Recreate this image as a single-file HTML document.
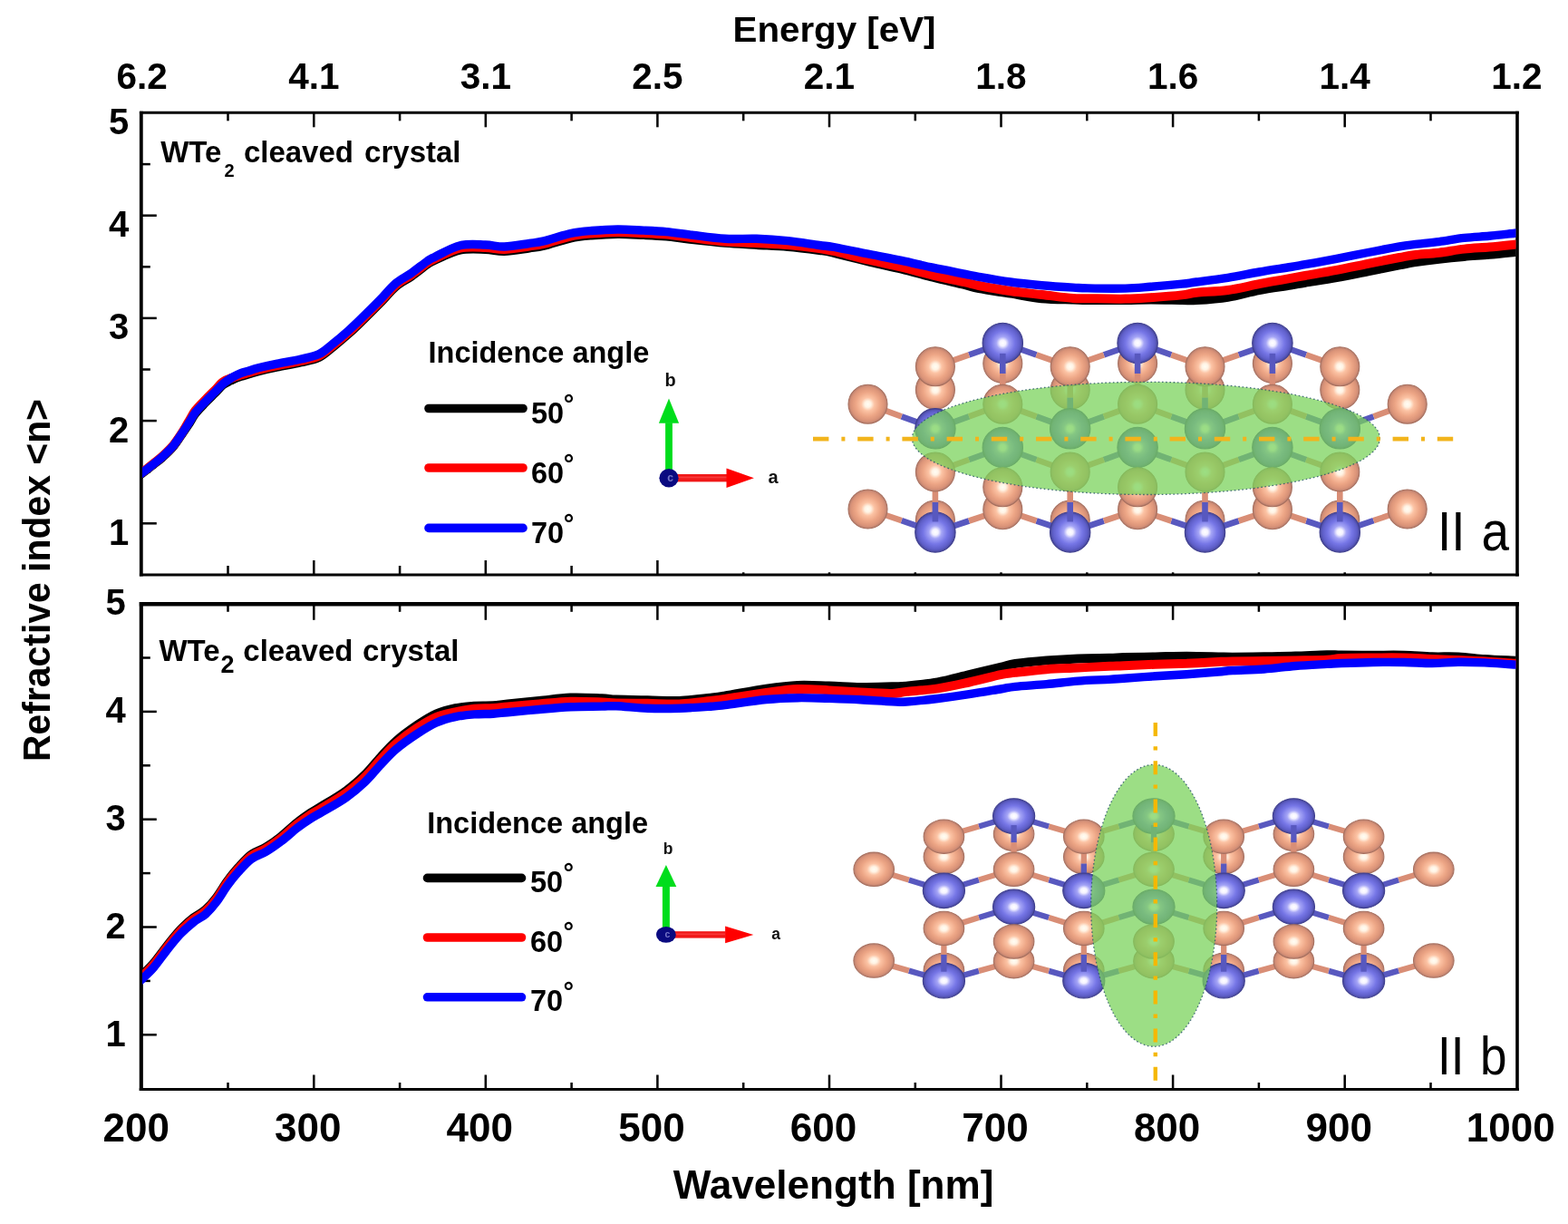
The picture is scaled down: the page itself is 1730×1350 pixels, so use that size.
<!DOCTYPE html><html><head><meta charset="utf-8"><style>html,body{margin:0;padding:0;background:#fff;}svg{display:block;}</style></head><body>
<svg width="1730" height="1350" viewBox="0 0 1730 1350">
<defs>
<radialGradient id="gO" cx="0.5" cy="0.5" r="0.5">
<stop offset="0" stop-color="#fffdf4"/><stop offset="0.16" stop-color="#fff3e4"/><stop offset="0.34" stop-color="#fcc3a4"/>
<stop offset="0.62" stop-color="#eda686"/><stop offset="0.86" stop-color="#da9378"/><stop offset="1" stop-color="#b98070"/></radialGradient>
<radialGradient id="gB" cx="0.5" cy="0.5" r="0.5">
<stop offset="0" stop-color="#ffffff"/><stop offset="0.15" stop-color="#f4f2ff"/><stop offset="0.32" stop-color="#a4a4f6"/>
<stop offset="0.6" stop-color="#7676e6"/><stop offset="0.86" stop-color="#5e5ec8"/><stop offset="1" stop-color="#48489a"/></radialGradient>
<clipPath id="cTop"><rect x="157" y="125.5" width="1515.5" height="507"/></clipPath>
<clipPath id="cBot"><rect x="157" y="668" width="1515.5" height="532"/></clipPath>
</defs>
<rect x="0" y="0" width="1730" height="1350" fill="#fff"/>
<g stroke="#000" fill="none">
<path d="M153.9,124.3 H1675.8" stroke-width="3.1"/>
<path d="M153.9,634.0 H1675.8" stroke-width="3.0"/>
<path d="M155.8,122.8 V635.5" stroke-width="3.8"/>
<path d="M1674.0,122.8 V635.5" stroke-width="3.6"/>
<line x1="251.5" y1="124.3" x2="251.5" y2="133.3" stroke-width="2.5"/>
<line x1="251.5" y1="634.0" x2="251.5" y2="624.0" stroke-width="2.5"/>
<line x1="346.3" y1="124.3" x2="346.3" y2="140.3" stroke-width="2.5"/>
<line x1="346.3" y1="634.0" x2="346.3" y2="618.0" stroke-width="2.5"/>
<line x1="441.1" y1="124.3" x2="441.1" y2="133.3" stroke-width="2.5"/>
<line x1="441.1" y1="634.0" x2="441.1" y2="624.0" stroke-width="2.5"/>
<line x1="535.8" y1="124.3" x2="535.8" y2="140.3" stroke-width="2.5"/>
<line x1="535.8" y1="634.0" x2="535.8" y2="618.0" stroke-width="2.5"/>
<line x1="630.6" y1="124.3" x2="630.6" y2="133.3" stroke-width="2.5"/>
<line x1="630.6" y1="634.0" x2="630.6" y2="624.0" stroke-width="2.5"/>
<line x1="725.4" y1="124.3" x2="725.4" y2="140.3" stroke-width="2.5"/>
<line x1="725.4" y1="634.0" x2="725.4" y2="618.0" stroke-width="2.5"/>
<line x1="820.2" y1="124.3" x2="820.2" y2="133.3" stroke-width="2.5"/>
<line x1="820.2" y1="634.0" x2="820.2" y2="624.0" stroke-width="2.5"/>
<line x1="915.0" y1="124.3" x2="915.0" y2="140.3" stroke-width="2.5"/>
<line x1="915.0" y1="634.0" x2="915.0" y2="618.0" stroke-width="2.5"/>
<line x1="1009.8" y1="124.3" x2="1009.8" y2="133.3" stroke-width="2.5"/>
<line x1="1009.8" y1="634.0" x2="1009.8" y2="624.0" stroke-width="2.5"/>
<line x1="1104.5" y1="124.3" x2="1104.5" y2="140.3" stroke-width="2.5"/>
<line x1="1104.5" y1="634.0" x2="1104.5" y2="618.0" stroke-width="2.5"/>
<line x1="1199.3" y1="124.3" x2="1199.3" y2="133.3" stroke-width="2.5"/>
<line x1="1199.3" y1="634.0" x2="1199.3" y2="624.0" stroke-width="2.5"/>
<line x1="1294.1" y1="124.3" x2="1294.1" y2="140.3" stroke-width="2.5"/>
<line x1="1294.1" y1="634.0" x2="1294.1" y2="618.0" stroke-width="2.5"/>
<line x1="1388.9" y1="124.3" x2="1388.9" y2="133.3" stroke-width="2.5"/>
<line x1="1388.9" y1="634.0" x2="1388.9" y2="624.0" stroke-width="2.5"/>
<line x1="1483.7" y1="124.3" x2="1483.7" y2="140.3" stroke-width="2.5"/>
<line x1="1483.7" y1="634.0" x2="1483.7" y2="618.0" stroke-width="2.5"/>
<line x1="1578.5" y1="124.3" x2="1578.5" y2="133.3" stroke-width="2.5"/>
<line x1="1578.5" y1="634.0" x2="1578.5" y2="624.0" stroke-width="2.5"/>
</g>
<g stroke="#000" fill="none">
<path d="M153.8,666.3 H1675.8" stroke-width="4.6"/>
<path d="M153.8,1201.5 H1675.8" stroke-width="3.2"/>
<path d="M155.8,664.0 V1203.1" stroke-width="4.1"/>
<path d="M1674.0,664.0 V1203.1" stroke-width="3.6"/>
<line x1="251.5" y1="666.3" x2="251.5" y2="674.8" stroke-width="2.5"/>
<line x1="251.5" y1="1201.5" x2="251.5" y2="1194.0" stroke-width="2.5"/>
<line x1="346.3" y1="666.3" x2="346.3" y2="683.8" stroke-width="2.5"/>
<line x1="346.3" y1="1201.5" x2="346.3" y2="1185.5" stroke-width="2.5"/>
<line x1="441.1" y1="666.3" x2="441.1" y2="674.8" stroke-width="2.5"/>
<line x1="441.1" y1="1201.5" x2="441.1" y2="1194.0" stroke-width="2.5"/>
<line x1="535.8" y1="666.3" x2="535.8" y2="683.8" stroke-width="2.5"/>
<line x1="535.8" y1="1201.5" x2="535.8" y2="1185.5" stroke-width="2.5"/>
<line x1="630.6" y1="666.3" x2="630.6" y2="674.8" stroke-width="2.5"/>
<line x1="630.6" y1="1201.5" x2="630.6" y2="1194.0" stroke-width="2.5"/>
<line x1="725.4" y1="666.3" x2="725.4" y2="683.8" stroke-width="2.5"/>
<line x1="725.4" y1="1201.5" x2="725.4" y2="1185.5" stroke-width="2.5"/>
<line x1="820.2" y1="666.3" x2="820.2" y2="674.8" stroke-width="2.5"/>
<line x1="820.2" y1="1201.5" x2="820.2" y2="1194.0" stroke-width="2.5"/>
<line x1="915.0" y1="666.3" x2="915.0" y2="683.8" stroke-width="2.5"/>
<line x1="915.0" y1="1201.5" x2="915.0" y2="1185.5" stroke-width="2.5"/>
<line x1="1009.8" y1="666.3" x2="1009.8" y2="674.8" stroke-width="2.5"/>
<line x1="1009.8" y1="1201.5" x2="1009.8" y2="1194.0" stroke-width="2.5"/>
<line x1="1104.5" y1="666.3" x2="1104.5" y2="683.8" stroke-width="2.5"/>
<line x1="1104.5" y1="1201.5" x2="1104.5" y2="1185.5" stroke-width="2.5"/>
<line x1="1199.3" y1="666.3" x2="1199.3" y2="674.8" stroke-width="2.5"/>
<line x1="1199.3" y1="1201.5" x2="1199.3" y2="1194.0" stroke-width="2.5"/>
<line x1="1294.1" y1="666.3" x2="1294.1" y2="683.8" stroke-width="2.5"/>
<line x1="1294.1" y1="1201.5" x2="1294.1" y2="1185.5" stroke-width="2.5"/>
<line x1="1388.9" y1="666.3" x2="1388.9" y2="674.8" stroke-width="2.5"/>
<line x1="1388.9" y1="1201.5" x2="1388.9" y2="1194.0" stroke-width="2.5"/>
<line x1="1483.7" y1="666.3" x2="1483.7" y2="683.8" stroke-width="2.5"/>
<line x1="1483.7" y1="1201.5" x2="1483.7" y2="1185.5" stroke-width="2.5"/>
<line x1="1578.5" y1="666.3" x2="1578.5" y2="674.8" stroke-width="2.5"/>
<line x1="1578.5" y1="1201.5" x2="1578.5" y2="1194.0" stroke-width="2.5"/>
</g>
<g stroke="#000" stroke-width="2.5">
<line x1="155.8" y1="577.3" x2="172.8" y2="577.3"/>
<line x1="155.8" y1="1141.3" x2="172.8" y2="1141.3"/>
<line x1="155.8" y1="520.7" x2="165.8" y2="520.7"/>
<line x1="155.8" y1="1081.9" x2="165.8" y2="1081.9"/>
<line x1="155.8" y1="464.1" x2="172.8" y2="464.1"/>
<line x1="155.8" y1="1022.5" x2="172.8" y2="1022.5"/>
<line x1="155.8" y1="407.5" x2="165.8" y2="407.5"/>
<line x1="155.8" y1="963.1" x2="165.8" y2="963.1"/>
<line x1="155.8" y1="350.9" x2="172.8" y2="350.9"/>
<line x1="155.8" y1="903.7" x2="172.8" y2="903.7"/>
<line x1="155.8" y1="294.3" x2="165.8" y2="294.3"/>
<line x1="155.8" y1="844.3" x2="165.8" y2="844.3"/>
<line x1="155.8" y1="237.7" x2="172.8" y2="237.7"/>
<line x1="155.8" y1="784.9" x2="172.8" y2="784.9"/>
<line x1="155.8" y1="181.1" x2="165.8" y2="181.1"/>
<line x1="155.8" y1="725.5" x2="165.8" y2="725.5"/>
</g>
<g clip-path="url(#cTop)" fill="none" stroke-width="10" stroke-linejoin="round" stroke-linecap="round">
<path d="M152.0,525.0 C152.6,524.6 152.9,524.9 155.8,522.8 C158.7,520.7 165.5,515.3 169.3,512.3 C173.2,509.2 175.4,507.7 178.9,504.5 C182.4,501.3 187.0,497.2 190.5,493.0 C194.0,488.8 197.2,483.6 200.1,479.5 C203.0,475.4 205.2,472.2 207.8,468.3 C210.4,464.4 212.3,460.0 215.5,455.9 C218.7,451.8 223.6,447.1 227.1,443.4 C230.6,439.7 233.5,437.0 236.7,433.8 C239.9,430.6 243.1,426.6 246.3,424.1 C249.5,421.6 252.8,420.4 256.0,418.9 C259.2,417.4 262.4,416.2 265.6,415.1 C268.8,414.0 272.0,413.2 275.2,412.2 C278.4,411.2 279.8,410.6 284.9,409.3 C290.0,408.1 298.1,406.3 306.0,404.7 C313.9,403.1 324.4,401.3 332.1,399.5 C339.8,397.7 346.1,396.8 352.0,394.0 C357.9,391.2 361.9,387.0 367.3,382.6 C372.8,378.2 378.9,373.1 384.7,367.9 C390.5,362.7 396.2,357.0 402.0,351.4 C407.8,345.8 413.6,340.0 419.4,334.1 C425.2,328.2 430.9,320.8 436.7,315.9 C442.5,311.0 448.2,308.7 454.0,304.6 C459.8,300.5 467.1,294.5 471.4,291.5 C475.7,288.5 473.9,289.3 480.0,286.7 C486.1,284.1 498.4,277.6 507.7,275.7 C517.0,273.8 527.4,274.8 535.5,275.0 C543.6,275.2 548.2,277.2 556.3,277.0 C564.4,276.8 576.7,274.5 584.0,273.5 C591.3,272.5 592.4,272.7 600.0,270.9 C607.6,269.1 620.6,264.4 629.4,262.5 C638.1,260.6 643.8,260.2 652.5,259.5 C661.2,258.8 671.8,258.1 681.4,258.0 C691.0,257.9 701.3,258.7 710.3,259.1 C719.3,259.5 726.9,259.8 735.4,260.6 C743.9,261.4 750.2,262.6 761.0,263.8 C771.8,265.0 787.7,266.8 800.0,267.8 C812.3,268.8 823.2,269.2 834.7,269.9 C846.2,270.6 857.8,271.0 869.3,272.0 C880.8,273.0 895.5,274.9 904.0,276.0 C912.5,277.1 910.7,276.7 920.0,278.9 C929.3,281.1 947.5,286.0 960.0,289.0 C972.5,292.0 983.2,293.9 994.7,296.7 C1006.2,299.5 1017.8,302.8 1029.3,305.7 C1040.8,308.6 1055.5,311.9 1064.0,314.0 C1072.5,316.1 1071.5,316.6 1080.0,318.2 C1088.5,319.8 1103.2,321.8 1114.7,323.6 C1126.2,325.4 1137.8,328.1 1149.3,329.2 C1160.8,330.3 1175.5,330.2 1184.0,330.5 C1192.5,330.8 1190.4,330.9 1200.0,331.0 C1209.6,331.1 1230.0,331.1 1241.6,331.0 C1253.1,330.9 1258.9,330.5 1269.3,330.5 C1279.7,330.5 1295.5,330.9 1304.0,331.0 C1312.5,331.1 1311.5,331.6 1320.0,331.1 C1328.5,330.6 1343.2,329.7 1354.7,327.8 C1366.2,325.9 1377.8,322.2 1389.3,320.0 C1400.8,317.8 1415.5,316.0 1424.0,314.6 C1432.5,313.2 1431.5,313.2 1440.0,311.8 C1448.5,310.4 1463.2,308.3 1474.7,306.2 C1486.2,304.1 1497.8,301.6 1509.3,299.3 C1520.8,297.0 1535.5,294.0 1544.0,292.4 C1552.5,290.8 1552.7,290.5 1560.0,289.4 C1567.3,288.3 1578.5,286.8 1587.7,285.7 C1597.0,284.6 1606.2,283.7 1615.5,282.9 C1624.8,282.1 1634.0,281.6 1643.2,280.8 C1652.5,280.0 1665.2,278.6 1671.0,278.0 C1676.8,277.4 1676.8,277.4 1678.0,277.3" stroke="#000"/>
<path d="M152.0,524.0 C152.6,523.6 152.9,523.9 155.8,521.8 C158.7,519.7 165.5,514.4 169.3,511.3 C173.2,508.2 175.4,506.7 178.9,503.5 C182.4,500.3 187.0,496.2 190.5,492.0 C194.0,487.8 197.2,482.9 200.1,478.5 C203.0,474.1 205.2,470.0 207.8,465.7 C210.4,461.5 212.3,457.1 215.5,452.9 C218.7,448.7 223.6,444.1 227.1,440.4 C230.6,436.7 233.5,434.0 236.7,430.8 C239.9,427.6 243.1,423.4 246.3,421.1 C249.5,418.8 252.8,418.0 256.0,416.8 C259.2,415.5 262.4,414.6 265.6,413.6 C268.8,412.6 272.0,411.7 275.2,410.7 C278.4,409.7 279.8,409.1 284.9,407.8 C290.0,406.6 298.1,404.8 306.0,403.2 C313.9,401.6 324.4,399.8 332.1,398.0 C339.8,396.2 346.1,395.3 352.0,392.5 C357.9,389.7 361.9,385.5 367.3,381.1 C372.8,376.8 378.9,371.6 384.7,366.4 C390.5,361.2 396.2,355.5 402.0,349.9 C407.8,344.3 413.6,338.5 419.4,332.6 C425.2,326.7 430.9,319.3 436.7,314.4 C442.5,309.5 448.2,307.2 454.0,303.1 C459.8,299.0 467.1,293.0 471.4,290.0 C475.7,287.0 473.9,287.9 480.0,285.2 C486.1,282.5 498.4,275.7 507.7,273.7 C517.0,271.7 527.4,272.8 535.5,273.0 C543.6,273.2 548.2,275.2 556.3,275.0 C564.4,274.8 576.7,272.5 584.0,271.5 C591.3,270.5 592.4,270.7 600.0,268.9 C607.6,267.1 620.6,262.4 629.4,260.5 C638.1,258.6 643.8,258.2 652.5,257.5 C661.2,256.8 671.8,256.1 681.4,256.0 C691.0,255.9 701.3,256.7 710.3,257.1 C719.3,257.5 726.9,257.8 735.4,258.6 C743.9,259.4 750.2,260.5 761.0,261.8 C771.8,263.1 787.7,265.5 800.0,266.5 C812.3,267.5 823.2,267.4 834.7,268.0 C846.2,268.6 857.8,269.0 869.3,270.0 C880.8,271.0 895.5,272.8 904.0,274.0 C912.5,275.2 910.7,274.8 920.0,277.0 C929.3,279.2 947.5,284.1 960.0,287.0 C972.5,289.9 983.2,291.8 994.7,294.6 C1006.2,297.4 1017.8,300.8 1029.3,303.6 C1040.8,306.4 1055.5,309.3 1064.0,311.2 C1072.5,313.1 1071.5,313.4 1080.0,315.0 C1088.5,316.6 1103.2,319.3 1114.7,321.0 C1126.2,322.7 1137.8,323.7 1149.3,325.0 C1160.8,326.3 1175.5,328.3 1184.0,329.0 C1192.5,329.7 1190.4,329.1 1200.0,329.2 C1209.6,329.3 1230.0,329.8 1241.6,329.6 C1253.1,329.4 1258.9,328.9 1269.3,328.2 C1279.7,327.5 1295.5,326.3 1304.0,325.4 C1312.5,324.5 1311.5,323.6 1320.0,322.7 C1328.5,321.8 1343.2,321.6 1354.7,320.0 C1366.2,318.4 1377.8,315.4 1389.3,313.2 C1400.8,311.0 1415.5,308.4 1424.0,306.9 C1432.5,305.4 1431.5,305.5 1440.0,304.0 C1448.5,302.5 1463.2,300.1 1474.7,297.9 C1486.2,295.7 1497.8,293.2 1509.3,290.9 C1520.8,288.6 1535.5,285.6 1544.0,284.0 C1552.5,282.4 1552.7,282.1 1560.0,281.2 C1567.3,280.3 1578.5,279.8 1587.7,278.7 C1597.0,277.6 1606.2,275.6 1615.5,274.6 C1624.8,273.6 1634.0,273.3 1643.2,272.5 C1652.5,271.7 1665.2,270.3 1671.0,269.7 C1676.8,269.1 1676.8,269.1 1678.0,269.0" stroke="#ff0000"/>
<path d="M152.0,524.5 C152.6,524.1 152.9,524.4 155.8,522.3 C158.7,520.2 165.5,514.9 169.3,511.8 C173.2,508.8 175.4,507.2 178.9,504.0 C182.4,500.8 187.0,496.7 190.5,492.5 C194.0,488.3 197.2,483.2 200.1,479.0 C203.0,474.8 205.2,471.4 207.8,467.4 C210.4,463.4 212.3,459.1 215.5,454.9 C218.7,450.7 223.6,446.1 227.1,442.4 C230.6,438.7 233.5,436.0 236.7,432.8 C239.9,429.6 243.1,425.8 246.3,423.1 C249.5,420.4 252.8,418.3 256.0,416.4 C259.2,414.5 262.4,412.9 265.6,411.6 C268.8,410.3 272.0,409.7 275.2,408.7 C278.4,407.7 279.8,407.1 284.9,405.8 C290.0,404.6 298.1,402.8 306.0,401.2 C313.9,399.6 324.4,397.8 332.1,396.0 C339.8,394.2 346.1,393.3 352.0,390.5 C357.9,387.7 361.9,383.5 367.3,379.1 C372.8,374.8 378.9,369.6 384.7,364.4 C390.5,359.2 396.2,353.5 402.0,347.9 C407.8,342.3 413.6,336.5 419.4,330.6 C425.2,324.7 430.9,317.3 436.7,312.4 C442.5,307.5 448.2,305.2 454.0,301.1 C459.8,297.0 467.1,291.0 471.4,288.0 C475.7,285.0 473.9,286.1 480.0,283.2 C486.1,280.3 498.4,272.9 507.7,270.7 C517.0,268.5 527.4,269.8 535.5,270.0 C543.6,270.2 548.2,272.2 556.3,272.0 C564.4,271.8 576.7,269.5 584.0,268.5 C591.3,267.5 592.4,267.7 600.0,265.9 C607.6,264.1 620.6,259.4 629.4,257.5 C638.1,255.6 643.8,255.2 652.5,254.5 C661.2,253.8 671.8,253.1 681.4,253.0 C691.0,252.9 701.3,253.7 710.3,254.1 C719.3,254.5 726.9,254.8 735.4,255.6 C743.9,256.4 750.2,257.5 761.0,258.8 C771.8,260.1 787.7,262.6 800.0,263.3 C812.3,264.1 823.2,262.9 834.7,263.3 C846.2,263.7 857.8,264.5 869.3,265.7 C880.8,266.9 895.5,269.4 904.0,270.5 C912.5,271.6 910.7,270.8 920.0,272.5 C929.3,274.2 947.5,278.0 960.0,280.5 C972.5,283.0 983.2,284.9 994.7,287.4 C1006.2,289.8 1017.8,292.8 1029.3,295.2 C1040.8,297.6 1055.5,300.4 1064.0,302.1 C1072.5,303.8 1071.5,303.8 1080.0,305.3 C1088.5,306.8 1103.2,309.4 1114.7,311.0 C1126.2,312.6 1137.8,313.7 1149.3,314.7 C1160.8,315.7 1175.5,316.6 1184.0,317.1 C1192.5,317.6 1190.4,317.7 1200.0,317.9 C1209.6,318.1 1230.0,318.4 1241.6,318.1 C1253.1,317.8 1258.9,317.1 1269.3,316.3 C1279.7,315.5 1295.5,314.1 1304.0,313.2 C1312.5,312.3 1311.5,312.1 1320.0,311.0 C1328.5,309.9 1343.2,308.1 1354.7,306.3 C1366.2,304.5 1377.8,302.0 1389.3,300.0 C1400.8,298.0 1415.5,295.9 1424.0,294.5 C1432.5,293.1 1431.5,293.2 1440.0,291.7 C1448.5,290.2 1463.2,287.6 1474.7,285.4 C1486.2,283.2 1497.8,280.8 1509.3,278.5 C1520.8,276.2 1535.5,273.4 1544.0,271.9 C1552.5,270.4 1552.7,270.5 1560.0,269.6 C1567.3,268.7 1578.5,267.8 1587.7,266.6 C1597.0,265.4 1606.2,263.4 1615.5,262.4 C1624.8,261.3 1634.0,261.1 1643.2,260.3 C1652.5,259.5 1665.2,257.9 1671.0,257.3 C1676.8,256.7 1676.8,256.7 1678.0,256.6" stroke="#0000ff" stroke-width="9.4"/>
</g>
<g clip-path="url(#cBot)" fill="none" stroke-width="10" stroke-linejoin="round" stroke-linecap="round">
<path d="M152.0,1079.5 C152.7,1078.9 153.0,1079.0 155.9,1076.2 C158.8,1073.4 164.6,1068.3 169.3,1062.8 C174.0,1057.4 179.2,1049.7 184.1,1043.5 C189.0,1037.3 194.0,1030.9 198.9,1025.7 C203.8,1020.5 209.0,1016.0 213.7,1012.3 C218.4,1008.6 222.8,1007.1 227.0,1003.3 C231.2,999.6 235.0,995.2 238.9,990.0 C242.8,984.8 246.8,977.6 250.7,972.2 C254.6,966.7 258.2,962.3 262.6,957.3 C267.1,952.4 272.2,946.3 277.4,942.5 C282.6,938.6 288.3,937.6 293.7,934.3 C299.1,931.0 304.3,927.3 310.0,922.8 C315.7,918.3 322.4,911.8 327.8,907.5 C333.2,903.1 337.9,899.9 342.6,896.7 C347.3,893.6 349.4,892.7 356.0,888.6 C362.6,884.6 374.2,877.9 382.0,872.2 C389.8,866.5 396.4,860.6 402.8,854.4 C409.2,848.1 414.4,841.0 420.2,834.8 C426.0,828.6 430.7,822.9 437.5,817.0 C444.3,811.1 453.4,804.5 460.8,799.5 C468.2,794.5 474.7,790.4 481.6,787.3 C488.5,784.2 495.5,782.5 502.4,781.1 C509.3,779.7 516.3,779.2 523.2,778.7 C530.1,778.2 537.9,778.7 544.0,778.3 C550.1,777.9 551.5,777.4 560.0,776.5 C568.5,775.6 583.2,774.1 594.7,773.0 C606.2,771.9 617.8,770.1 629.3,769.6 C640.8,769.1 655.5,770.0 664.0,770.3 C672.5,770.6 671.5,771.3 680.0,771.6 C688.5,771.9 703.2,772.1 714.7,772.3 C726.2,772.5 737.8,773.5 749.3,773.0 C760.8,772.5 775.5,770.5 784.0,769.6 C792.5,768.7 789.8,769.1 800.0,767.5 C810.2,765.9 832.1,761.6 845.4,759.7 C858.7,757.8 868.5,756.4 880.0,755.9 C891.5,755.4 903.2,756.2 914.7,756.5 C926.2,756.8 937.8,757.8 949.3,757.9 C960.8,758.0 975.5,757.4 984.0,757.2 C992.5,757.0 991.5,757.5 1000.0,756.7 C1008.5,755.9 1023.2,754.6 1034.7,752.5 C1046.2,750.4 1057.8,747.0 1069.3,744.2 C1080.8,741.4 1095.5,737.9 1104.0,735.9 C1112.5,733.9 1111.5,733.2 1120.0,732.0 C1128.5,730.8 1143.2,729.4 1154.7,728.5 C1166.2,727.6 1177.8,726.9 1189.3,726.4 C1200.8,725.9 1215.5,726.0 1224.0,725.8 C1232.5,725.6 1231.5,725.3 1240.0,725.1 C1248.5,724.9 1263.2,724.6 1274.7,724.4 C1286.2,724.2 1297.8,723.7 1309.3,723.7 C1320.8,723.7 1335.5,724.2 1344.0,724.4 C1352.5,724.6 1351.5,724.7 1360.0,724.7 C1368.5,724.7 1383.2,724.5 1394.7,724.3 C1406.2,724.1 1417.8,724.0 1429.3,723.6 C1440.8,723.2 1455.5,722.4 1464.0,722.2 C1472.5,722.0 1471.5,722.5 1480.0,722.6 C1488.5,722.7 1503.2,722.7 1514.7,722.7 C1526.2,722.7 1538.4,722.4 1549.3,722.7 C1560.2,723.0 1570.0,724.0 1580.0,724.3 C1590.0,724.6 1599.3,724.0 1609.0,724.5 C1618.7,725.0 1628.3,726.3 1638.0,727.0 C1647.7,727.7 1660.3,728.2 1667.0,728.5 C1673.7,728.8 1676.2,728.9 1678.0,729.0" stroke="#000"/>
<path d="M152.0,1081.0 C152.7,1080.4 153.0,1080.5 155.9,1077.7 C158.8,1074.9 164.6,1069.8 169.3,1064.3 C174.0,1058.9 179.2,1051.2 184.1,1045.0 C189.0,1038.8 194.0,1032.4 198.9,1027.2 C203.8,1022.0 209.0,1017.5 213.7,1013.8 C218.4,1010.1 222.8,1008.6 227.0,1004.8 C231.2,1001.1 235.0,996.7 238.9,991.5 C242.8,986.3 246.8,979.1 250.7,973.7 C254.6,968.2 258.2,963.8 262.6,958.8 C267.1,953.9 272.2,947.8 277.4,944.0 C282.6,940.1 288.3,939.1 293.7,935.8 C299.1,932.6 304.3,928.8 310.0,924.4 C315.7,920.0 322.4,913.5 327.8,909.2 C333.2,905.0 337.9,901.7 342.6,898.6 C347.3,895.6 349.4,894.7 356.0,890.7 C362.6,886.7 374.2,880.2 382.0,874.5 C389.8,868.9 396.4,863.0 402.8,856.8 C409.2,850.7 414.4,843.6 420.2,837.4 C426.0,831.3 430.7,825.6 437.5,819.8 C444.3,814.0 453.4,807.3 460.8,802.5 C468.2,797.7 474.7,793.7 481.6,790.8 C488.5,787.9 495.5,786.8 502.4,785.3 C509.3,783.8 516.3,782.5 523.2,781.8 C530.1,781.1 537.9,781.5 544.0,781.1 C550.1,780.7 551.5,780.4 560.0,779.6 C568.5,778.8 583.2,777.5 594.7,776.5 C606.2,775.5 617.8,774.1 629.3,773.7 C640.8,773.4 655.5,774.1 664.0,774.4 C672.5,774.7 671.5,775.2 680.0,775.4 C688.5,775.6 703.2,775.6 714.7,775.8 C726.2,776.0 737.8,777.0 749.3,776.5 C760.8,776.0 775.5,773.9 784.0,773.0 C792.5,772.1 789.8,772.5 800.0,771.0 C810.2,769.5 832.1,765.8 845.4,764.0 C858.7,762.2 868.5,760.4 880.0,760.0 C891.5,759.6 903.2,760.8 914.7,761.4 C926.2,762.0 937.8,762.9 949.3,763.5 C960.8,764.1 975.5,765.0 984.0,764.9 C992.5,764.8 991.5,763.8 1000.0,762.9 C1008.5,762.0 1023.2,761.1 1034.7,759.4 C1046.2,757.7 1057.8,755.0 1069.3,752.5 C1080.8,750.0 1095.5,746.0 1104.0,744.2 C1112.5,742.4 1111.5,742.9 1120.0,741.9 C1128.5,740.9 1143.2,739.1 1154.7,738.2 C1166.2,737.3 1177.8,737.1 1189.3,736.5 C1200.8,735.9 1215.5,735.2 1224.0,734.8 C1232.5,734.4 1231.5,734.6 1240.0,734.2 C1248.5,733.9 1263.2,733.1 1274.7,732.7 C1286.2,732.3 1297.8,732.2 1309.3,731.8 C1320.8,731.3 1335.5,730.4 1344.0,730.0 C1352.5,729.6 1351.5,729.6 1360.0,729.5 C1368.5,729.4 1383.2,729.3 1394.7,729.1 C1406.2,728.9 1417.8,728.6 1429.3,728.4 C1440.8,728.2 1455.5,728.1 1464.0,727.7 C1472.5,727.3 1471.5,726.4 1480.0,726.0 C1488.5,725.6 1503.2,725.6 1514.7,725.5 C1526.2,725.4 1538.4,725.2 1549.3,725.5 C1560.2,725.8 1570.0,726.6 1580.0,727.0 C1590.0,727.4 1599.3,727.6 1609.0,728.0 C1618.7,728.4 1628.3,728.9 1638.0,729.5 C1647.7,730.1 1660.3,731.1 1667.0,731.5 C1673.7,731.9 1676.2,731.9 1678.0,732.0" stroke="#ff0000"/>
<path d="M152.0,1084.0 C152.7,1083.5 153.0,1083.5 155.9,1080.7 C158.8,1077.9 164.6,1072.8 169.3,1067.4 C174.0,1062.0 179.2,1054.3 184.1,1048.1 C189.0,1041.9 194.0,1035.6 198.9,1030.4 C203.8,1025.2 209.0,1020.7 213.7,1017.0 C218.4,1013.3 222.8,1011.8 227.0,1008.1 C231.2,1004.4 235.0,1000.0 238.9,994.8 C242.8,989.6 246.8,982.4 250.7,977.0 C254.6,971.6 258.2,967.1 262.6,962.2 C267.1,957.3 272.2,951.2 277.4,947.4 C282.6,943.6 288.3,942.5 293.7,939.3 C299.1,936.1 304.3,932.4 310.0,928.1 C315.7,923.8 322.4,917.5 327.8,913.3 C333.2,909.1 337.9,906.0 342.6,903.0 C347.3,900.0 349.4,899.2 356.0,895.3 C362.6,891.4 374.2,885.1 382.0,879.6 C389.8,874.1 396.4,868.4 402.8,862.3 C409.2,856.2 414.4,849.3 420.2,843.2 C426.0,837.1 430.7,831.6 437.5,825.9 C444.3,820.2 453.4,813.8 460.8,809.0 C468.2,804.2 474.7,800.0 481.6,797.0 C488.5,794.0 495.5,792.2 502.4,790.7 C509.3,789.2 516.3,788.5 523.2,787.9 C530.1,787.3 537.9,787.6 544.0,787.2 C550.1,786.8 551.5,786.5 560.0,785.7 C568.5,784.9 583.2,783.5 594.7,782.5 C606.2,781.5 617.8,780.4 629.3,779.8 C640.8,779.2 655.5,779.3 664.0,779.1 C672.5,778.9 671.5,778.4 680.0,778.8 C688.5,779.1 703.2,780.8 714.7,781.2 C726.2,781.6 737.8,781.5 749.3,781.2 C760.8,780.9 775.5,779.8 784.0,779.2 C792.5,778.6 789.8,779.0 800.0,777.7 C810.2,776.4 832.1,772.8 845.4,771.5 C858.7,770.2 868.5,769.9 880.0,769.7 C891.5,769.5 903.2,770.0 914.7,770.4 C926.2,770.8 937.8,771.2 949.3,771.8 C960.8,772.4 975.5,773.5 984.0,773.9 C992.5,774.3 991.5,774.6 1000.0,774.0 C1008.5,773.4 1023.2,771.9 1034.7,770.5 C1046.2,769.1 1057.8,767.5 1069.3,765.7 C1080.8,764.0 1095.5,761.4 1104.0,760.0 C1112.5,758.6 1111.5,758.2 1120.0,757.3 C1128.5,756.4 1143.2,755.6 1154.7,754.6 C1166.2,753.6 1177.8,752.0 1189.3,751.1 C1200.8,750.2 1215.5,749.9 1224.0,749.4 C1232.5,748.9 1231.5,748.8 1240.0,748.2 C1248.5,747.6 1263.2,746.5 1274.7,745.8 C1286.2,745.0 1297.8,744.5 1309.3,743.7 C1320.8,742.9 1335.5,741.7 1344.0,741.0 C1352.5,740.3 1351.5,740.0 1360.0,739.5 C1368.5,739.0 1383.2,738.8 1394.7,738.0 C1406.2,737.2 1417.8,735.4 1429.3,734.5 C1440.8,733.6 1455.5,732.9 1464.0,732.4 C1472.5,731.9 1471.5,731.8 1480.0,731.5 C1488.5,731.2 1503.2,730.7 1514.7,730.5 C1526.2,730.3 1538.4,730.3 1549.3,730.5 C1560.2,730.7 1570.0,731.5 1580.0,731.5 C1590.0,731.5 1599.3,730.4 1609.0,730.3 C1618.7,730.2 1628.3,730.5 1638.0,730.9 C1647.7,731.3 1660.3,732.4 1667.0,732.8 C1673.7,733.2 1676.2,733.2 1678.0,733.3" stroke="#0000ff" stroke-width="9.4"/>
</g>
<rect x="760" y="350" width="911.5" height="281.3" fill="#fff"/>
<ellipse cx="1031.9" cy="573.5" rx="21.5" ry="21.5" fill="url(#gO)" stroke="#a7705f" stroke-width="1.1"/>
<ellipse cx="1180.7" cy="573.5" rx="21.5" ry="21.5" fill="url(#gO)" stroke="#a7705f" stroke-width="1.1"/>
<ellipse cx="1329.5" cy="573.5" rx="21.5" ry="21.5" fill="url(#gO)" stroke="#a7705f" stroke-width="1.1"/>
<ellipse cx="1478.3" cy="573.5" rx="21.5" ry="21.5" fill="url(#gO)" stroke="#a7705f" stroke-width="1.1"/>
<ellipse cx="1106.3" cy="401.0" rx="21.5" ry="21.5" fill="url(#gO)" stroke="#a7705f" stroke-width="1.1"/>
<ellipse cx="1255.1" cy="401.0" rx="21.5" ry="21.5" fill="url(#gO)" stroke="#a7705f" stroke-width="1.1"/>
<ellipse cx="1403.9" cy="401.0" rx="21.5" ry="21.5" fill="url(#gO)" stroke="#a7705f" stroke-width="1.1"/>
<line x1="1031.9" y1="404.3" x2="1031.9" y2="438.6" stroke="#d98e76" stroke-width="6.6"/>
<line x1="1031.9" y1="438.6" x2="1031.9" y2="472.8" stroke="#5858bf" stroke-width="6.6"/>
<line x1="1031.9" y1="472.8" x2="994.7" y2="459.3" stroke="#5858bf" stroke-width="6.6"/>
<line x1="994.7" y1="459.3" x2="957.5" y2="445.8" stroke="#d98e76" stroke-width="6.6"/>
<line x1="1031.9" y1="586.9" x2="994.7" y2="574.2" stroke="#5858bf" stroke-width="6.6"/>
<line x1="994.7" y1="574.2" x2="957.5" y2="561.5" stroke="#d98e76" stroke-width="6.6"/>
<line x1="1031.9" y1="472.8" x2="1069.1" y2="459.3" stroke="#5858bf" stroke-width="6.6"/>
<line x1="1069.1" y1="459.3" x2="1106.3" y2="445.8" stroke="#d98e76" stroke-width="6.6"/>
<line x1="1031.9" y1="586.9" x2="1069.1" y2="574.5" stroke="#5858bf" stroke-width="6.6"/>
<line x1="1069.1" y1="574.5" x2="1106.3" y2="562.2" stroke="#d98e76" stroke-width="6.6"/>
<line x1="1180.7" y1="404.3" x2="1180.7" y2="438.6" stroke="#d98e76" stroke-width="6.6"/>
<line x1="1180.7" y1="438.6" x2="1180.7" y2="472.8" stroke="#5858bf" stroke-width="6.6"/>
<line x1="1180.7" y1="472.8" x2="1143.5" y2="459.3" stroke="#5858bf" stroke-width="6.6"/>
<line x1="1143.5" y1="459.3" x2="1106.3" y2="445.8" stroke="#d98e76" stroke-width="6.6"/>
<line x1="1180.7" y1="586.9" x2="1143.5" y2="574.5" stroke="#5858bf" stroke-width="6.6"/>
<line x1="1143.5" y1="574.5" x2="1106.3" y2="562.2" stroke="#d98e76" stroke-width="6.6"/>
<line x1="1180.7" y1="472.8" x2="1217.9" y2="459.3" stroke="#5858bf" stroke-width="6.6"/>
<line x1="1217.9" y1="459.3" x2="1255.1" y2="445.8" stroke="#d98e76" stroke-width="6.6"/>
<line x1="1180.7" y1="586.9" x2="1217.9" y2="574.5" stroke="#5858bf" stroke-width="6.6"/>
<line x1="1217.9" y1="574.5" x2="1255.1" y2="562.2" stroke="#d98e76" stroke-width="6.6"/>
<line x1="1329.5" y1="404.3" x2="1329.5" y2="438.6" stroke="#d98e76" stroke-width="6.6"/>
<line x1="1329.5" y1="438.6" x2="1329.5" y2="472.8" stroke="#5858bf" stroke-width="6.6"/>
<line x1="1329.5" y1="472.8" x2="1292.3" y2="459.3" stroke="#5858bf" stroke-width="6.6"/>
<line x1="1292.3" y1="459.3" x2="1255.1" y2="445.8" stroke="#d98e76" stroke-width="6.6"/>
<line x1="1329.5" y1="586.9" x2="1292.3" y2="574.5" stroke="#5858bf" stroke-width="6.6"/>
<line x1="1292.3" y1="574.5" x2="1255.1" y2="562.2" stroke="#d98e76" stroke-width="6.6"/>
<line x1="1329.5" y1="472.8" x2="1366.7" y2="459.3" stroke="#5858bf" stroke-width="6.6"/>
<line x1="1366.7" y1="459.3" x2="1403.9" y2="445.8" stroke="#d98e76" stroke-width="6.6"/>
<line x1="1329.5" y1="586.9" x2="1366.7" y2="574.5" stroke="#5858bf" stroke-width="6.6"/>
<line x1="1366.7" y1="574.5" x2="1403.9" y2="562.2" stroke="#d98e76" stroke-width="6.6"/>
<line x1="1478.3" y1="404.3" x2="1478.3" y2="438.6" stroke="#d98e76" stroke-width="6.6"/>
<line x1="1478.3" y1="438.6" x2="1478.3" y2="472.8" stroke="#5858bf" stroke-width="6.6"/>
<line x1="1478.3" y1="472.8" x2="1441.1" y2="459.3" stroke="#5858bf" stroke-width="6.6"/>
<line x1="1441.1" y1="459.3" x2="1403.9" y2="445.8" stroke="#d98e76" stroke-width="6.6"/>
<line x1="1478.3" y1="586.9" x2="1441.1" y2="574.5" stroke="#5858bf" stroke-width="6.6"/>
<line x1="1441.1" y1="574.5" x2="1403.9" y2="562.2" stroke="#d98e76" stroke-width="6.6"/>
<line x1="1478.3" y1="472.8" x2="1515.5" y2="459.3" stroke="#5858bf" stroke-width="6.6"/>
<line x1="1515.5" y1="459.3" x2="1552.7" y2="445.8" stroke="#d98e76" stroke-width="6.6"/>
<line x1="1478.3" y1="586.9" x2="1515.5" y2="574.2" stroke="#5858bf" stroke-width="6.6"/>
<line x1="1515.5" y1="574.2" x2="1552.7" y2="561.5" stroke="#d98e76" stroke-width="6.6"/>
<line x1="1106.3" y1="493.5" x2="1106.3" y2="515.4" stroke="#5858bf" stroke-width="6.6"/>
<line x1="1106.3" y1="515.4" x2="1106.3" y2="537.3" stroke="#d98e76" stroke-width="6.6"/>
<line x1="1106.3" y1="378.4" x2="1069.1" y2="391.4" stroke="#5858bf" stroke-width="6.6"/>
<line x1="1069.1" y1="391.4" x2="1031.9" y2="404.3" stroke="#d98e76" stroke-width="6.6"/>
<line x1="1106.3" y1="493.5" x2="1069.1" y2="507.0" stroke="#5858bf" stroke-width="6.6"/>
<line x1="1069.1" y1="507.0" x2="1031.9" y2="520.5" stroke="#d98e76" stroke-width="6.6"/>
<line x1="1106.3" y1="378.4" x2="1143.5" y2="391.4" stroke="#5858bf" stroke-width="6.6"/>
<line x1="1143.5" y1="391.4" x2="1180.7" y2="404.3" stroke="#d98e76" stroke-width="6.6"/>
<line x1="1106.3" y1="493.5" x2="1143.5" y2="507.0" stroke="#5858bf" stroke-width="6.6"/>
<line x1="1143.5" y1="507.0" x2="1180.7" y2="520.5" stroke="#d98e76" stroke-width="6.6"/>
<line x1="1255.1" y1="493.5" x2="1255.1" y2="515.4" stroke="#5858bf" stroke-width="6.6"/>
<line x1="1255.1" y1="515.4" x2="1255.1" y2="537.3" stroke="#d98e76" stroke-width="6.6"/>
<line x1="1255.1" y1="378.4" x2="1217.9" y2="391.4" stroke="#5858bf" stroke-width="6.6"/>
<line x1="1217.9" y1="391.4" x2="1180.7" y2="404.3" stroke="#d98e76" stroke-width="6.6"/>
<line x1="1255.1" y1="493.5" x2="1217.9" y2="507.0" stroke="#5858bf" stroke-width="6.6"/>
<line x1="1217.9" y1="507.0" x2="1180.7" y2="520.5" stroke="#d98e76" stroke-width="6.6"/>
<line x1="1255.1" y1="378.4" x2="1292.3" y2="391.4" stroke="#5858bf" stroke-width="6.6"/>
<line x1="1292.3" y1="391.4" x2="1329.5" y2="404.3" stroke="#d98e76" stroke-width="6.6"/>
<line x1="1255.1" y1="493.5" x2="1292.3" y2="507.0" stroke="#5858bf" stroke-width="6.6"/>
<line x1="1292.3" y1="507.0" x2="1329.5" y2="520.5" stroke="#d98e76" stroke-width="6.6"/>
<line x1="1403.9" y1="493.5" x2="1403.9" y2="515.4" stroke="#5858bf" stroke-width="6.6"/>
<line x1="1403.9" y1="515.4" x2="1403.9" y2="537.3" stroke="#d98e76" stroke-width="6.6"/>
<line x1="1403.9" y1="378.4" x2="1366.7" y2="391.4" stroke="#5858bf" stroke-width="6.6"/>
<line x1="1366.7" y1="391.4" x2="1329.5" y2="404.3" stroke="#d98e76" stroke-width="6.6"/>
<line x1="1403.9" y1="493.5" x2="1366.7" y2="507.0" stroke="#5858bf" stroke-width="6.6"/>
<line x1="1366.7" y1="507.0" x2="1329.5" y2="520.5" stroke="#d98e76" stroke-width="6.6"/>
<line x1="1403.9" y1="378.4" x2="1441.1" y2="391.4" stroke="#5858bf" stroke-width="6.6"/>
<line x1="1441.1" y1="391.4" x2="1478.3" y2="404.3" stroke="#d98e76" stroke-width="6.6"/>
<line x1="1403.9" y1="493.5" x2="1441.1" y2="507.0" stroke="#5858bf" stroke-width="6.6"/>
<line x1="1441.1" y1="507.0" x2="1478.3" y2="520.5" stroke="#d98e76" stroke-width="6.6"/>
<ellipse cx="1106.3" cy="562.2" rx="21.5" ry="21.5" fill="url(#gO)" stroke="#a7705f" stroke-width="1.1"/>
<ellipse cx="1255.1" cy="562.2" rx="21.5" ry="21.5" fill="url(#gO)" stroke="#a7705f" stroke-width="1.1"/>
<ellipse cx="1403.9" cy="562.2" rx="21.5" ry="21.5" fill="url(#gO)" stroke="#a7705f" stroke-width="1.1"/>
<ellipse cx="1031.9" cy="430.0" rx="21.5" ry="21.5" fill="url(#gO)" stroke="#a7705f" stroke-width="1.1"/>
<ellipse cx="1180.7" cy="430.0" rx="21.5" ry="21.5" fill="url(#gO)" stroke="#a7705f" stroke-width="1.1"/>
<ellipse cx="1329.5" cy="430.0" rx="21.5" ry="21.5" fill="url(#gO)" stroke="#a7705f" stroke-width="1.1"/>
<ellipse cx="1478.3" cy="430.0" rx="21.5" ry="21.5" fill="url(#gO)" stroke="#a7705f" stroke-width="1.1"/>
<line x1="1180.7" y1="404.3" x2="1180.7" y2="438.6" stroke="#d98e76" stroke-width="6.6"/>
<line x1="1180.7" y1="438.6" x2="1180.7" y2="472.8" stroke="#5858bf" stroke-width="6.6"/>
<line x1="1329.5" y1="404.3" x2="1329.5" y2="438.6" stroke="#d98e76" stroke-width="6.6"/>
<line x1="1329.5" y1="438.6" x2="1329.5" y2="472.8" stroke="#5858bf" stroke-width="6.6"/>
<ellipse cx="1031.9" cy="404.3" rx="21.5" ry="21.5" fill="url(#gO)" stroke="#a7705f" stroke-width="1.1"/>
<ellipse cx="1180.7" cy="404.3" rx="21.5" ry="21.5" fill="url(#gO)" stroke="#a7705f" stroke-width="1.1"/>
<ellipse cx="1329.5" cy="404.3" rx="21.5" ry="21.5" fill="url(#gO)" stroke="#a7705f" stroke-width="1.1"/>
<ellipse cx="1478.3" cy="404.3" rx="21.5" ry="21.5" fill="url(#gO)" stroke="#a7705f" stroke-width="1.1"/>
<ellipse cx="1106.3" cy="378.4" rx="22.2" ry="22.2" fill="url(#gB)" stroke="#3d3d8e" stroke-width="1.1"/>
<ellipse cx="1255.1" cy="378.4" rx="22.2" ry="22.2" fill="url(#gB)" stroke="#3d3d8e" stroke-width="1.1"/>
<ellipse cx="1403.9" cy="378.4" rx="22.2" ry="22.2" fill="url(#gB)" stroke="#3d3d8e" stroke-width="1.1"/>
<ellipse cx="1031.9" cy="586.9" rx="22.2" ry="22.2" fill="url(#gB)" stroke="#3d3d8e" stroke-width="1.1"/>
<ellipse cx="1180.7" cy="586.9" rx="22.2" ry="22.2" fill="url(#gB)" stroke="#3d3d8e" stroke-width="1.1"/>
<ellipse cx="1329.5" cy="586.9" rx="22.2" ry="22.2" fill="url(#gB)" stroke="#3d3d8e" stroke-width="1.1"/>
<ellipse cx="1478.3" cy="586.9" rx="22.2" ry="22.2" fill="url(#gB)" stroke="#3d3d8e" stroke-width="1.1"/>
<line x1="1106.3" y1="389.9" x2="1106.3" y2="412.1" stroke="#5858bf" stroke-width="6.6"/>
<line x1="1106.3" y1="412.1" x2="1106.3" y2="445.8" stroke="#d98e76" stroke-width="6.6"/>
<line x1="1255.1" y1="389.9" x2="1255.1" y2="412.1" stroke="#5858bf" stroke-width="6.6"/>
<line x1="1255.1" y1="412.1" x2="1255.1" y2="445.8" stroke="#d98e76" stroke-width="6.6"/>
<line x1="1403.9" y1="389.9" x2="1403.9" y2="412.1" stroke="#5858bf" stroke-width="6.6"/>
<line x1="1403.9" y1="412.1" x2="1403.9" y2="445.8" stroke="#d98e76" stroke-width="6.6"/>
<line x1="1031.9" y1="575.4" x2="1031.9" y2="553.7" stroke="#5858bf" stroke-width="6.6"/>
<line x1="1031.9" y1="553.7" x2="1031.9" y2="520.5" stroke="#d98e76" stroke-width="6.6"/>
<line x1="1180.7" y1="575.4" x2="1180.7" y2="553.7" stroke="#5858bf" stroke-width="6.6"/>
<line x1="1180.7" y1="553.7" x2="1180.7" y2="520.5" stroke="#d98e76" stroke-width="6.6"/>
<line x1="1329.5" y1="575.4" x2="1329.5" y2="553.7" stroke="#5858bf" stroke-width="6.6"/>
<line x1="1329.5" y1="553.7" x2="1329.5" y2="520.5" stroke="#d98e76" stroke-width="6.6"/>
<line x1="1478.3" y1="575.4" x2="1478.3" y2="553.7" stroke="#5858bf" stroke-width="6.6"/>
<line x1="1478.3" y1="553.7" x2="1478.3" y2="520.5" stroke="#d98e76" stroke-width="6.6"/>
<ellipse cx="957.5" cy="445.8" rx="21.5" ry="21.5" fill="url(#gO)" stroke="#a7705f" stroke-width="1.1"/>
<ellipse cx="1106.3" cy="445.8" rx="21.5" ry="21.5" fill="url(#gO)" stroke="#a7705f" stroke-width="1.1"/>
<ellipse cx="1255.1" cy="445.8" rx="21.5" ry="21.5" fill="url(#gO)" stroke="#a7705f" stroke-width="1.1"/>
<ellipse cx="1403.9" cy="445.8" rx="21.5" ry="21.5" fill="url(#gO)" stroke="#a7705f" stroke-width="1.1"/>
<ellipse cx="1552.7" cy="445.8" rx="21.5" ry="21.5" fill="url(#gO)" stroke="#a7705f" stroke-width="1.1"/>
<ellipse cx="1031.9" cy="472.8" rx="22.2" ry="22.2" fill="url(#gB)" stroke="#3d3d8e" stroke-width="1.1"/>
<ellipse cx="1180.7" cy="472.8" rx="22.2" ry="22.2" fill="url(#gB)" stroke="#3d3d8e" stroke-width="1.1"/>
<ellipse cx="1329.5" cy="472.8" rx="22.2" ry="22.2" fill="url(#gB)" stroke="#3d3d8e" stroke-width="1.1"/>
<ellipse cx="1478.3" cy="472.8" rx="22.2" ry="22.2" fill="url(#gB)" stroke="#3d3d8e" stroke-width="1.1"/>
<ellipse cx="1106.3" cy="493.5" rx="22.2" ry="22.2" fill="url(#gB)" stroke="#3d3d8e" stroke-width="1.1"/>
<ellipse cx="1255.1" cy="493.5" rx="22.2" ry="22.2" fill="url(#gB)" stroke="#3d3d8e" stroke-width="1.1"/>
<ellipse cx="1403.9" cy="493.5" rx="22.2" ry="22.2" fill="url(#gB)" stroke="#3d3d8e" stroke-width="1.1"/>
<ellipse cx="1031.9" cy="520.5" rx="21.5" ry="21.5" fill="url(#gO)" stroke="#a7705f" stroke-width="1.1"/>
<ellipse cx="1180.7" cy="520.5" rx="21.5" ry="21.5" fill="url(#gO)" stroke="#a7705f" stroke-width="1.1"/>
<ellipse cx="1329.5" cy="520.5" rx="21.5" ry="21.5" fill="url(#gO)" stroke="#a7705f" stroke-width="1.1"/>
<ellipse cx="1478.3" cy="520.5" rx="21.5" ry="21.5" fill="url(#gO)" stroke="#a7705f" stroke-width="1.1"/>
<ellipse cx="1106.3" cy="537.3" rx="21.5" ry="21.5" fill="url(#gO)" stroke="#a7705f" stroke-width="1.1"/>
<ellipse cx="1255.1" cy="537.3" rx="21.5" ry="21.5" fill="url(#gO)" stroke="#a7705f" stroke-width="1.1"/>
<ellipse cx="1403.9" cy="537.3" rx="21.5" ry="21.5" fill="url(#gO)" stroke="#a7705f" stroke-width="1.1"/>
<ellipse cx="957.5" cy="561.5" rx="21.5" ry="21.5" fill="url(#gO)" stroke="#a7705f" stroke-width="1.1"/>
<ellipse cx="1552.7" cy="561.5" rx="21.5" ry="21.5" fill="url(#gO)" stroke="#a7705f" stroke-width="1.1"/>
<ellipse cx="1264.4" cy="483.4" rx="258.0" ry="62.1" fill="#79d25a" fill-opacity="0.74" stroke="#2c5868" stroke-width="1.3" stroke-dasharray="1.6 2.6" stroke-opacity="0.85"/>
<line x1="897" y1="484.1" x2="1606" y2="484.1" stroke="#f2b41c" stroke-width="4.8" stroke-dasharray="17.4 14 4 13.8"/>
<ellipse cx="1041.4" cy="1070.0" rx="22.3" ry="18.7" fill="url(#gO)" stroke="#a7705f" stroke-width="1.1"/>
<ellipse cx="1195.8" cy="1070.0" rx="22.3" ry="18.7" fill="url(#gO)" stroke="#a7705f" stroke-width="1.1"/>
<ellipse cx="1350.2" cy="1070.0" rx="22.3" ry="18.7" fill="url(#gO)" stroke="#a7705f" stroke-width="1.1"/>
<ellipse cx="1504.6" cy="1070.0" rx="22.3" ry="18.7" fill="url(#gO)" stroke="#a7705f" stroke-width="1.1"/>
<ellipse cx="1118.6" cy="919.8" rx="22.3" ry="18.7" fill="url(#gO)" stroke="#a7705f" stroke-width="1.1"/>
<ellipse cx="1273.0" cy="919.8" rx="22.3" ry="18.7" fill="url(#gO)" stroke="#a7705f" stroke-width="1.1"/>
<ellipse cx="1427.4" cy="919.8" rx="22.3" ry="18.7" fill="url(#gO)" stroke="#a7705f" stroke-width="1.1"/>
<line x1="1041.4" y1="922.7" x2="1041.4" y2="952.5" stroke="#d98e76" stroke-width="6.3"/>
<line x1="1041.4" y1="952.5" x2="1041.4" y2="982.3" stroke="#5858bf" stroke-width="6.3"/>
<line x1="1041.4" y1="982.3" x2="1002.8" y2="970.6" stroke="#5858bf" stroke-width="6.3"/>
<line x1="1002.8" y1="970.6" x2="964.2" y2="958.8" stroke="#d98e76" stroke-width="6.3"/>
<line x1="1041.4" y1="1081.7" x2="1002.8" y2="1070.6" stroke="#5858bf" stroke-width="6.3"/>
<line x1="1002.8" y1="1070.6" x2="964.2" y2="1059.6" stroke="#d98e76" stroke-width="6.3"/>
<line x1="1041.4" y1="982.3" x2="1080.0" y2="970.6" stroke="#5858bf" stroke-width="6.3"/>
<line x1="1080.0" y1="970.6" x2="1118.6" y2="958.8" stroke="#d98e76" stroke-width="6.3"/>
<line x1="1041.4" y1="1081.7" x2="1080.0" y2="1070.9" stroke="#5858bf" stroke-width="6.3"/>
<line x1="1080.0" y1="1070.9" x2="1118.6" y2="1060.2" stroke="#d98e76" stroke-width="6.3"/>
<line x1="1195.8" y1="922.7" x2="1195.8" y2="952.5" stroke="#d98e76" stroke-width="6.3"/>
<line x1="1195.8" y1="952.5" x2="1195.8" y2="982.3" stroke="#5858bf" stroke-width="6.3"/>
<line x1="1195.8" y1="982.3" x2="1157.2" y2="970.6" stroke="#5858bf" stroke-width="6.3"/>
<line x1="1157.2" y1="970.6" x2="1118.6" y2="958.8" stroke="#d98e76" stroke-width="6.3"/>
<line x1="1195.8" y1="1081.7" x2="1157.2" y2="1070.9" stroke="#5858bf" stroke-width="6.3"/>
<line x1="1157.2" y1="1070.9" x2="1118.6" y2="1060.2" stroke="#d98e76" stroke-width="6.3"/>
<line x1="1195.8" y1="982.3" x2="1234.4" y2="970.6" stroke="#5858bf" stroke-width="6.3"/>
<line x1="1234.4" y1="970.6" x2="1273.0" y2="958.8" stroke="#d98e76" stroke-width="6.3"/>
<line x1="1195.8" y1="1081.7" x2="1234.4" y2="1070.9" stroke="#5858bf" stroke-width="6.3"/>
<line x1="1234.4" y1="1070.9" x2="1273.0" y2="1060.2" stroke="#d98e76" stroke-width="6.3"/>
<line x1="1350.2" y1="922.7" x2="1350.2" y2="952.5" stroke="#d98e76" stroke-width="6.3"/>
<line x1="1350.2" y1="952.5" x2="1350.2" y2="982.3" stroke="#5858bf" stroke-width="6.3"/>
<line x1="1350.2" y1="982.3" x2="1311.6" y2="970.6" stroke="#5858bf" stroke-width="6.3"/>
<line x1="1311.6" y1="970.6" x2="1273.0" y2="958.8" stroke="#d98e76" stroke-width="6.3"/>
<line x1="1350.2" y1="1081.7" x2="1311.6" y2="1070.9" stroke="#5858bf" stroke-width="6.3"/>
<line x1="1311.6" y1="1070.9" x2="1273.0" y2="1060.2" stroke="#d98e76" stroke-width="6.3"/>
<line x1="1350.2" y1="982.3" x2="1388.8" y2="970.6" stroke="#5858bf" stroke-width="6.3"/>
<line x1="1388.8" y1="970.6" x2="1427.4" y2="958.8" stroke="#d98e76" stroke-width="6.3"/>
<line x1="1350.2" y1="1081.7" x2="1388.8" y2="1070.9" stroke="#5858bf" stroke-width="6.3"/>
<line x1="1388.8" y1="1070.9" x2="1427.4" y2="1060.2" stroke="#d98e76" stroke-width="6.3"/>
<line x1="1504.6" y1="922.7" x2="1504.6" y2="952.5" stroke="#d98e76" stroke-width="6.3"/>
<line x1="1504.6" y1="952.5" x2="1504.6" y2="982.3" stroke="#5858bf" stroke-width="6.3"/>
<line x1="1504.6" y1="982.3" x2="1466.0" y2="970.6" stroke="#5858bf" stroke-width="6.3"/>
<line x1="1466.0" y1="970.6" x2="1427.4" y2="958.8" stroke="#d98e76" stroke-width="6.3"/>
<line x1="1504.6" y1="1081.7" x2="1466.0" y2="1070.9" stroke="#5858bf" stroke-width="6.3"/>
<line x1="1466.0" y1="1070.9" x2="1427.4" y2="1060.2" stroke="#d98e76" stroke-width="6.3"/>
<line x1="1504.6" y1="982.3" x2="1543.2" y2="970.6" stroke="#5858bf" stroke-width="6.3"/>
<line x1="1543.2" y1="970.6" x2="1581.8" y2="958.8" stroke="#d98e76" stroke-width="6.3"/>
<line x1="1504.6" y1="1081.7" x2="1543.2" y2="1070.6" stroke="#5858bf" stroke-width="6.3"/>
<line x1="1543.2" y1="1070.6" x2="1581.8" y2="1059.6" stroke="#d98e76" stroke-width="6.3"/>
<line x1="1118.6" y1="1000.3" x2="1118.6" y2="1019.4" stroke="#5858bf" stroke-width="6.3"/>
<line x1="1118.6" y1="1019.4" x2="1118.6" y2="1038.5" stroke="#d98e76" stroke-width="6.3"/>
<line x1="1118.6" y1="900.1" x2="1080.0" y2="911.4" stroke="#5858bf" stroke-width="6.3"/>
<line x1="1080.0" y1="911.4" x2="1041.4" y2="922.7" stroke="#d98e76" stroke-width="6.3"/>
<line x1="1118.6" y1="1000.3" x2="1080.0" y2="1012.1" stroke="#5858bf" stroke-width="6.3"/>
<line x1="1080.0" y1="1012.1" x2="1041.4" y2="1023.9" stroke="#d98e76" stroke-width="6.3"/>
<line x1="1118.6" y1="900.1" x2="1157.2" y2="911.4" stroke="#5858bf" stroke-width="6.3"/>
<line x1="1157.2" y1="911.4" x2="1195.8" y2="922.7" stroke="#d98e76" stroke-width="6.3"/>
<line x1="1118.6" y1="1000.3" x2="1157.2" y2="1012.1" stroke="#5858bf" stroke-width="6.3"/>
<line x1="1157.2" y1="1012.1" x2="1195.8" y2="1023.9" stroke="#d98e76" stroke-width="6.3"/>
<line x1="1273.0" y1="1000.3" x2="1273.0" y2="1019.4" stroke="#5858bf" stroke-width="6.3"/>
<line x1="1273.0" y1="1019.4" x2="1273.0" y2="1038.5" stroke="#d98e76" stroke-width="6.3"/>
<line x1="1273.0" y1="900.1" x2="1234.4" y2="911.4" stroke="#5858bf" stroke-width="6.3"/>
<line x1="1234.4" y1="911.4" x2="1195.8" y2="922.7" stroke="#d98e76" stroke-width="6.3"/>
<line x1="1273.0" y1="1000.3" x2="1234.4" y2="1012.1" stroke="#5858bf" stroke-width="6.3"/>
<line x1="1234.4" y1="1012.1" x2="1195.8" y2="1023.9" stroke="#d98e76" stroke-width="6.3"/>
<line x1="1273.0" y1="900.1" x2="1311.6" y2="911.4" stroke="#5858bf" stroke-width="6.3"/>
<line x1="1311.6" y1="911.4" x2="1350.2" y2="922.7" stroke="#d98e76" stroke-width="6.3"/>
<line x1="1273.0" y1="1000.3" x2="1311.6" y2="1012.1" stroke="#5858bf" stroke-width="6.3"/>
<line x1="1311.6" y1="1012.1" x2="1350.2" y2="1023.9" stroke="#d98e76" stroke-width="6.3"/>
<line x1="1427.4" y1="1000.3" x2="1427.4" y2="1019.4" stroke="#5858bf" stroke-width="6.3"/>
<line x1="1427.4" y1="1019.4" x2="1427.4" y2="1038.5" stroke="#d98e76" stroke-width="6.3"/>
<line x1="1427.4" y1="900.1" x2="1388.8" y2="911.4" stroke="#5858bf" stroke-width="6.3"/>
<line x1="1388.8" y1="911.4" x2="1350.2" y2="922.7" stroke="#d98e76" stroke-width="6.3"/>
<line x1="1427.4" y1="1000.3" x2="1388.8" y2="1012.1" stroke="#5858bf" stroke-width="6.3"/>
<line x1="1388.8" y1="1012.1" x2="1350.2" y2="1023.9" stroke="#d98e76" stroke-width="6.3"/>
<line x1="1427.4" y1="900.1" x2="1466.0" y2="911.4" stroke="#5858bf" stroke-width="6.3"/>
<line x1="1466.0" y1="911.4" x2="1504.6" y2="922.7" stroke="#d98e76" stroke-width="6.3"/>
<line x1="1427.4" y1="1000.3" x2="1466.0" y2="1012.1" stroke="#5858bf" stroke-width="6.3"/>
<line x1="1466.0" y1="1012.1" x2="1504.6" y2="1023.9" stroke="#d98e76" stroke-width="6.3"/>
<ellipse cx="1118.6" cy="1060.2" rx="22.3" ry="18.7" fill="url(#gO)" stroke="#a7705f" stroke-width="1.1"/>
<ellipse cx="1273.0" cy="1060.2" rx="22.3" ry="18.7" fill="url(#gO)" stroke="#a7705f" stroke-width="1.1"/>
<ellipse cx="1427.4" cy="1060.2" rx="22.3" ry="18.7" fill="url(#gO)" stroke="#a7705f" stroke-width="1.1"/>
<ellipse cx="1041.4" cy="945.0" rx="22.3" ry="18.7" fill="url(#gO)" stroke="#a7705f" stroke-width="1.1"/>
<ellipse cx="1195.8" cy="945.0" rx="22.3" ry="18.7" fill="url(#gO)" stroke="#a7705f" stroke-width="1.1"/>
<ellipse cx="1350.2" cy="945.0" rx="22.3" ry="18.7" fill="url(#gO)" stroke="#a7705f" stroke-width="1.1"/>
<ellipse cx="1504.6" cy="945.0" rx="22.3" ry="18.7" fill="url(#gO)" stroke="#a7705f" stroke-width="1.1"/>
<line x1="1195.8" y1="922.7" x2="1195.8" y2="952.5" stroke="#d98e76" stroke-width="6.3"/>
<line x1="1195.8" y1="952.5" x2="1195.8" y2="982.3" stroke="#5858bf" stroke-width="6.3"/>
<line x1="1350.2" y1="922.7" x2="1350.2" y2="952.5" stroke="#d98e76" stroke-width="6.3"/>
<line x1="1350.2" y1="952.5" x2="1350.2" y2="982.3" stroke="#5858bf" stroke-width="6.3"/>
<ellipse cx="1041.4" cy="922.7" rx="22.3" ry="18.7" fill="url(#gO)" stroke="#a7705f" stroke-width="1.1"/>
<ellipse cx="1195.8" cy="922.7" rx="22.3" ry="18.7" fill="url(#gO)" stroke="#a7705f" stroke-width="1.1"/>
<ellipse cx="1350.2" cy="922.7" rx="22.3" ry="18.7" fill="url(#gO)" stroke="#a7705f" stroke-width="1.1"/>
<ellipse cx="1504.6" cy="922.7" rx="22.3" ry="18.7" fill="url(#gO)" stroke="#a7705f" stroke-width="1.1"/>
<ellipse cx="1118.6" cy="900.1" rx="23.1" ry="19.3" fill="url(#gB)" stroke="#3d3d8e" stroke-width="1.1"/>
<ellipse cx="1273.0" cy="900.1" rx="23.1" ry="19.3" fill="url(#gB)" stroke="#3d3d8e" stroke-width="1.1"/>
<ellipse cx="1427.4" cy="900.1" rx="23.1" ry="19.3" fill="url(#gB)" stroke="#3d3d8e" stroke-width="1.1"/>
<ellipse cx="1041.4" cy="1081.7" rx="23.1" ry="19.3" fill="url(#gB)" stroke="#3d3d8e" stroke-width="1.1"/>
<ellipse cx="1195.8" cy="1081.7" rx="23.1" ry="19.3" fill="url(#gB)" stroke="#3d3d8e" stroke-width="1.1"/>
<ellipse cx="1350.2" cy="1081.7" rx="23.1" ry="19.3" fill="url(#gB)" stroke="#3d3d8e" stroke-width="1.1"/>
<ellipse cx="1504.6" cy="1081.7" rx="23.1" ry="19.3" fill="url(#gB)" stroke="#3d3d8e" stroke-width="1.1"/>
<line x1="1118.6" y1="910.1" x2="1118.6" y2="929.4" stroke="#5858bf" stroke-width="6.3"/>
<line x1="1118.6" y1="929.4" x2="1118.6" y2="958.8" stroke="#d98e76" stroke-width="6.3"/>
<line x1="1273.0" y1="910.1" x2="1273.0" y2="929.4" stroke="#5858bf" stroke-width="6.3"/>
<line x1="1273.0" y1="929.4" x2="1273.0" y2="958.8" stroke="#d98e76" stroke-width="6.3"/>
<line x1="1427.4" y1="910.1" x2="1427.4" y2="929.4" stroke="#5858bf" stroke-width="6.3"/>
<line x1="1427.4" y1="929.4" x2="1427.4" y2="958.8" stroke="#d98e76" stroke-width="6.3"/>
<line x1="1041.4" y1="1071.7" x2="1041.4" y2="1052.8" stroke="#5858bf" stroke-width="6.3"/>
<line x1="1041.4" y1="1052.8" x2="1041.4" y2="1023.9" stroke="#d98e76" stroke-width="6.3"/>
<line x1="1195.8" y1="1071.7" x2="1195.8" y2="1052.8" stroke="#5858bf" stroke-width="6.3"/>
<line x1="1195.8" y1="1052.8" x2="1195.8" y2="1023.9" stroke="#d98e76" stroke-width="6.3"/>
<line x1="1350.2" y1="1071.7" x2="1350.2" y2="1052.8" stroke="#5858bf" stroke-width="6.3"/>
<line x1="1350.2" y1="1052.8" x2="1350.2" y2="1023.9" stroke="#d98e76" stroke-width="6.3"/>
<line x1="1504.6" y1="1071.7" x2="1504.6" y2="1052.8" stroke="#5858bf" stroke-width="6.3"/>
<line x1="1504.6" y1="1052.8" x2="1504.6" y2="1023.9" stroke="#d98e76" stroke-width="6.3"/>
<ellipse cx="964.2" cy="958.8" rx="22.3" ry="18.7" fill="url(#gO)" stroke="#a7705f" stroke-width="1.1"/>
<ellipse cx="1118.6" cy="958.8" rx="22.3" ry="18.7" fill="url(#gO)" stroke="#a7705f" stroke-width="1.1"/>
<ellipse cx="1273.0" cy="958.8" rx="22.3" ry="18.7" fill="url(#gO)" stroke="#a7705f" stroke-width="1.1"/>
<ellipse cx="1427.4" cy="958.8" rx="22.3" ry="18.7" fill="url(#gO)" stroke="#a7705f" stroke-width="1.1"/>
<ellipse cx="1581.8" cy="958.8" rx="22.3" ry="18.7" fill="url(#gO)" stroke="#a7705f" stroke-width="1.1"/>
<ellipse cx="1041.4" cy="982.3" rx="23.1" ry="19.3" fill="url(#gB)" stroke="#3d3d8e" stroke-width="1.1"/>
<ellipse cx="1195.8" cy="982.3" rx="23.1" ry="19.3" fill="url(#gB)" stroke="#3d3d8e" stroke-width="1.1"/>
<ellipse cx="1350.2" cy="982.3" rx="23.1" ry="19.3" fill="url(#gB)" stroke="#3d3d8e" stroke-width="1.1"/>
<ellipse cx="1504.6" cy="982.3" rx="23.1" ry="19.3" fill="url(#gB)" stroke="#3d3d8e" stroke-width="1.1"/>
<ellipse cx="1118.6" cy="1000.3" rx="23.1" ry="19.3" fill="url(#gB)" stroke="#3d3d8e" stroke-width="1.1"/>
<ellipse cx="1273.0" cy="1000.3" rx="23.1" ry="19.3" fill="url(#gB)" stroke="#3d3d8e" stroke-width="1.1"/>
<ellipse cx="1427.4" cy="1000.3" rx="23.1" ry="19.3" fill="url(#gB)" stroke="#3d3d8e" stroke-width="1.1"/>
<ellipse cx="1041.4" cy="1023.9" rx="22.3" ry="18.7" fill="url(#gO)" stroke="#a7705f" stroke-width="1.1"/>
<ellipse cx="1195.8" cy="1023.9" rx="22.3" ry="18.7" fill="url(#gO)" stroke="#a7705f" stroke-width="1.1"/>
<ellipse cx="1350.2" cy="1023.9" rx="22.3" ry="18.7" fill="url(#gO)" stroke="#a7705f" stroke-width="1.1"/>
<ellipse cx="1504.6" cy="1023.9" rx="22.3" ry="18.7" fill="url(#gO)" stroke="#a7705f" stroke-width="1.1"/>
<ellipse cx="1118.6" cy="1038.5" rx="22.3" ry="18.7" fill="url(#gO)" stroke="#a7705f" stroke-width="1.1"/>
<ellipse cx="1273.0" cy="1038.5" rx="22.3" ry="18.7" fill="url(#gO)" stroke="#a7705f" stroke-width="1.1"/>
<ellipse cx="1427.4" cy="1038.5" rx="22.3" ry="18.7" fill="url(#gO)" stroke="#a7705f" stroke-width="1.1"/>
<ellipse cx="964.2" cy="1059.6" rx="22.3" ry="18.7" fill="url(#gO)" stroke="#a7705f" stroke-width="1.1"/>
<ellipse cx="1581.8" cy="1059.6" rx="22.3" ry="18.7" fill="url(#gO)" stroke="#a7705f" stroke-width="1.1"/>
<ellipse cx="1273.2" cy="998.8" rx="69.5" ry="155.5" fill="#79d25a" fill-opacity="0.74" stroke="#2c5868" stroke-width="1.3" stroke-dasharray="1.6 2.6" stroke-opacity="0.85"/>
<line x1="1274.8" y1="797" x2="1274.8" y2="1192" stroke="#f5b800" stroke-width="4.4" stroke-dasharray="15 11.2 4.4 11.6"/>
<rect x="734.1" y="466.2" width="7.8" height="61.0" fill="#00dd1c"/>
<polygon points="726.9,466.7 738.0,439.4 749.1,466.7" fill="#00dd1c"/>
<rect x="738.0" y="523.0" width="64.0" height="8.4" fill="#f01818"/>
<rect x="738.0" y="525.6" width="64.0" height="1.8" fill="#ff5050" fill-opacity="0.6"/>
<polygon points="801.5,516.5 831.9,527.2 801.5,537.9" fill="#ff0000"/>
<ellipse cx="738.0" cy="527.2" rx="10.6" ry="10.2" fill="#0a0a80"/>
<text x="739.5" y="531.2" font-family="Liberation Sans" font-weight="bold" font-size="12.0" fill="#c8c8ff" fill-opacity="0.55" text-anchor="middle">c</text>
<text x="739.5" y="426.2" font-family="Liberation Sans" font-weight="bold" font-size="20.0" fill="#111" text-anchor="middle">b</text>
<text x="853.0" y="532.8" font-family="Liberation Sans" font-weight="bold" font-size="20.0" fill="#111" text-anchor="middle">a</text>
<rect x="730.9" y="977.5" width="8.0" height="53.4" fill="#00dd1c"/>
<polygon points="723.5,978.0 734.9,954.1 746.3,978.0" fill="#00dd1c"/>
<rect x="734.9" y="1027.2" width="65.7" height="7.4" fill="#f01818"/>
<rect x="734.9" y="1029.5" width="65.7" height="1.6" fill="#ff5050" fill-opacity="0.6"/>
<polygon points="800.1,1021.5 831.3,1030.9 800.1,1040.3" fill="#ff0000"/>
<ellipse cx="734.9" cy="1030.9" rx="10.9" ry="8.9" fill="#0a0a80"/>
<text x="736.4" y="1034.4" font-family="Liberation Sans" font-weight="bold" font-size="10.5" fill="#c8c8ff" fill-opacity="0.55" text-anchor="middle">c</text>
<text x="737.0" y="942.4" font-family="Liberation Sans" font-weight="bold" font-size="17.5" fill="#111" text-anchor="middle">b</text>
<text x="856.0" y="1036.0" font-family="Liberation Sans" font-weight="bold" font-size="17.5" fill="#111" text-anchor="middle">a</text>
<text x="472.5" y="400.3" font-family="Liberation Sans, Arial, sans-serif" font-weight="bold" font-size="32.5" fill="#000">Incidence angle</text>
<line x1="473.0" y1="450.5" x2="577.0" y2="450.5" stroke="#000" stroke-width="9.6" stroke-linecap="round"/>
<text x="586.0" y="467.0" font-family="Liberation Sans, Arial, sans-serif" font-weight="bold" font-size="32.5" fill="#000">50</text>
<text x="621.8" y="455.7" font-family="Liberation Sans, Arial, sans-serif" font-weight="bold" font-size="29" fill="#000">°</text>
<line x1="473.0" y1="516.0" x2="577.0" y2="516.0" stroke="#ff0000" stroke-width="9.6" stroke-linecap="round"/>
<text x="586.0" y="533.0" font-family="Liberation Sans, Arial, sans-serif" font-weight="bold" font-size="32.5" fill="#000">60</text>
<text x="621.8" y="521.7" font-family="Liberation Sans, Arial, sans-serif" font-weight="bold" font-size="29" fill="#000">°</text>
<line x1="473.0" y1="582.4" x2="577.0" y2="582.4" stroke="#0000ff" stroke-width="9.6" stroke-linecap="round"/>
<text x="586.0" y="599.0" font-family="Liberation Sans, Arial, sans-serif" font-weight="bold" font-size="32.5" fill="#000">70</text>
<text x="621.8" y="587.7" font-family="Liberation Sans, Arial, sans-serif" font-weight="bold" font-size="29" fill="#000">°</text>
<text x="471.2" y="919.0" font-family="Liberation Sans, Arial, sans-serif" font-weight="bold" font-size="32.5" fill="#000">Incidence angle</text>
<line x1="471.5" y1="968.4" x2="575.5" y2="968.4" stroke="#000" stroke-width="9.6" stroke-linecap="round"/>
<text x="585.0" y="984.0" font-family="Liberation Sans, Arial, sans-serif" font-weight="bold" font-size="32.5" fill="#000">50</text>
<text x="621.5" y="972.7" font-family="Liberation Sans, Arial, sans-serif" font-weight="bold" font-size="29" fill="#000">°</text>
<line x1="471.5" y1="1034.0" x2="575.5" y2="1034.0" stroke="#ff0000" stroke-width="9.6" stroke-linecap="round"/>
<text x="585.0" y="1049.5" font-family="Liberation Sans, Arial, sans-serif" font-weight="bold" font-size="32.5" fill="#000">60</text>
<text x="621.5" y="1038.2" font-family="Liberation Sans, Arial, sans-serif" font-weight="bold" font-size="29" fill="#000">°</text>
<line x1="471.5" y1="1099.8" x2="575.5" y2="1099.8" stroke="#0000ff" stroke-width="9.6" stroke-linecap="round"/>
<text x="585.0" y="1115.4" font-family="Liberation Sans, Arial, sans-serif" font-weight="bold" font-size="32.5" fill="#000">70</text>
<text x="621.5" y="1104.1" font-family="Liberation Sans, Arial, sans-serif" font-weight="bold" font-size="29" fill="#000">°</text>
<text font-family="Liberation Sans, Arial, sans-serif" font-weight="bold" font-size="33" fill="#000"><tspan x="177.2" y="179.0">WTe</tspan><tspan x="247.6" y="194.6" font-size="20">2</tspan><tspan x="268.9" y="179.0">cleaved</tspan><tspan x="402.1" y="179.0">crystal</tspan></text>
<text font-family="Liberation Sans, Arial, sans-serif" font-weight="bold" font-size="33" fill="#000"><tspan x="175.4" y="729.0">WTe</tspan><tspan x="243.4" y="742.0" font-size="27">2</tspan><tspan x="268.3" y="729.0">cleaved</tspan><tspan x="400.0" y="729.0">crystal</tspan></text>
<text x="0" y="0" font-family="Liberation Sans, Arial, sans-serif" font-size="61" fill="#000" transform="translate(1586,607.2) scale(0.9,1)">II <tspan dx="3">a</tspan></text>
<text x="0" y="0" font-family="Liberation Sans, Arial, sans-serif" font-size="59" fill="#000" transform="translate(1586,1185.2) scale(0.9,1)">II <tspan dx="3">b</tspan></text>
<text x="150.2" y="1259.3" font-family="Liberation Sans, Arial, sans-serif" font-weight="bold" font-size="44" fill="#000" text-anchor="middle">200</text>
<text x="339.8" y="1259.3" font-family="Liberation Sans, Arial, sans-serif" font-weight="bold" font-size="44" fill="#000" text-anchor="middle">300</text>
<text x="529.3" y="1259.3" font-family="Liberation Sans, Arial, sans-serif" font-weight="bold" font-size="44" fill="#000" text-anchor="middle">400</text>
<text x="718.9" y="1259.3" font-family="Liberation Sans, Arial, sans-serif" font-weight="bold" font-size="44" fill="#000" text-anchor="middle">500</text>
<text x="908.5" y="1259.3" font-family="Liberation Sans, Arial, sans-serif" font-weight="bold" font-size="44" fill="#000" text-anchor="middle">600</text>
<text x="1098.0" y="1259.3" font-family="Liberation Sans, Arial, sans-serif" font-weight="bold" font-size="44" fill="#000" text-anchor="middle">700</text>
<text x="1287.6" y="1259.3" font-family="Liberation Sans, Arial, sans-serif" font-weight="bold" font-size="44" fill="#000" text-anchor="middle">800</text>
<text x="1477.2" y="1259.3" font-family="Liberation Sans, Arial, sans-serif" font-weight="bold" font-size="44" fill="#000" text-anchor="middle">900</text>
<text x="1666.8" y="1259.3" font-family="Liberation Sans, Arial, sans-serif" font-weight="bold" font-size="44" fill="#000" text-anchor="middle">1000</text>
<text x="156.7" y="98" font-family="Liberation Sans, Arial, sans-serif" font-weight="bold" font-size="40.5" fill="#000" text-anchor="middle">6.2</text>
<text x="346.3" y="98" font-family="Liberation Sans, Arial, sans-serif" font-weight="bold" font-size="40.5" fill="#000" text-anchor="middle">4.1</text>
<text x="535.8" y="98" font-family="Liberation Sans, Arial, sans-serif" font-weight="bold" font-size="40.5" fill="#000" text-anchor="middle">3.1</text>
<text x="725.4" y="98" font-family="Liberation Sans, Arial, sans-serif" font-weight="bold" font-size="40.5" fill="#000" text-anchor="middle">2.5</text>
<text x="915.0" y="98" font-family="Liberation Sans, Arial, sans-serif" font-weight="bold" font-size="40.5" fill="#000" text-anchor="middle">2.1</text>
<text x="1104.5" y="98" font-family="Liberation Sans, Arial, sans-serif" font-weight="bold" font-size="40.5" fill="#000" text-anchor="middle">1.8</text>
<text x="1294.1" y="98" font-family="Liberation Sans, Arial, sans-serif" font-weight="bold" font-size="40.5" fill="#000" text-anchor="middle">1.6</text>
<text x="1483.7" y="98" font-family="Liberation Sans, Arial, sans-serif" font-weight="bold" font-size="40.5" fill="#000" text-anchor="middle">1.4</text>
<text x="1673.3" y="98" font-family="Liberation Sans, Arial, sans-serif" font-weight="bold" font-size="40.5" fill="#000" text-anchor="middle">1.2</text>
<text x="131.0" y="600.8" font-family="Liberation Sans, Arial, sans-serif" font-weight="bold" font-size="40" fill="#000" text-anchor="middle">1</text>
<text x="127.5" y="1153.6" font-family="Liberation Sans, Arial, sans-serif" font-weight="bold" font-size="40" fill="#000" text-anchor="middle">1</text>
<text x="131.0" y="487.6" font-family="Liberation Sans, Arial, sans-serif" font-weight="bold" font-size="40" fill="#000" text-anchor="middle">2</text>
<text x="127.5" y="1034.8" font-family="Liberation Sans, Arial, sans-serif" font-weight="bold" font-size="40" fill="#000" text-anchor="middle">2</text>
<text x="131.0" y="374.4" font-family="Liberation Sans, Arial, sans-serif" font-weight="bold" font-size="40" fill="#000" text-anchor="middle">3</text>
<text x="127.5" y="916.0" font-family="Liberation Sans, Arial, sans-serif" font-weight="bold" font-size="40" fill="#000" text-anchor="middle">3</text>
<text x="131.0" y="261.2" font-family="Liberation Sans, Arial, sans-serif" font-weight="bold" font-size="40" fill="#000" text-anchor="middle">4</text>
<text x="127.5" y="797.2" font-family="Liberation Sans, Arial, sans-serif" font-weight="bold" font-size="40" fill="#000" text-anchor="middle">4</text>
<text x="131.0" y="148.0" font-family="Liberation Sans, Arial, sans-serif" font-weight="bold" font-size="40" fill="#000" text-anchor="middle">5</text>
<text x="127.5" y="678.4" font-family="Liberation Sans, Arial, sans-serif" font-weight="bold" font-size="40" fill="#000" text-anchor="middle">5</text>
<text x="920.5" y="46.1" font-family="Liberation Sans, Arial, sans-serif" font-weight="bold" font-size="38.4" fill="#000" text-anchor="middle" transform="translate(920.5,0) scale(1.05,1) translate(-920.5,0)">Energy [eV]</text>
<text x="0" y="0" font-family="Liberation Sans, Arial, sans-serif" font-weight="bold" font-size="43.6" fill="#000" text-anchor="middle" transform="translate(919.6,1322.4) scale(1.012,1)">Wavelength [nm]</text>
<text x="0" y="0" font-family="Liberation Sans, Arial, sans-serif" font-weight="bold" font-size="42.6" fill="#000" text-anchor="middle" transform="translate(55.2,640) rotate(-90) scale(0.96,1)">Refractive index &lt;n&gt;</text>
</svg></body></html>
